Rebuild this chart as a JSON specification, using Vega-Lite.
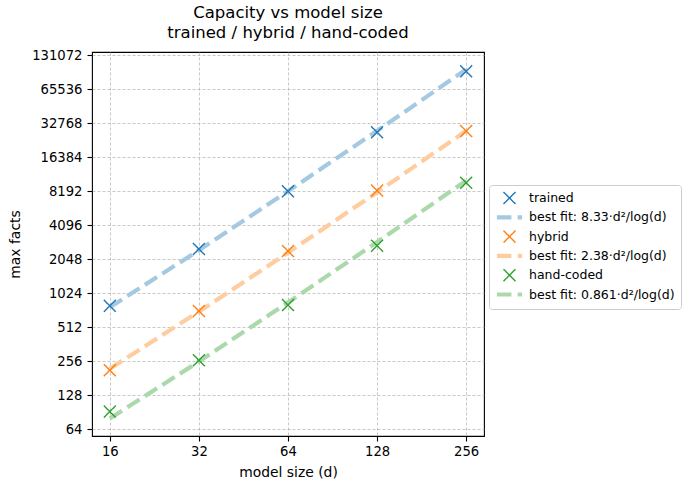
{
  "$schema": "https://vega.github.io/schema/vega-lite/v6.json",
  "autosize": "none",
  "width": 392,
  "height": 384,
  "padding": {"left": 92, "top": 52, "right": 206, "bottom": 53},
  "background": "white",
  "config": {
    "font": "DejaVu Sans",
    "view": {"stroke": "black", "strokeWidth": 1.1},
    "axis": {
      "domain": false,
      "grid": true,
      "gridColor": "#b0b0b0",
      "gridDash": [3, 2],
      "gridWidth": 0.7,
      "tickColor": "black",
      "tickSize": 5,
      "tickWidth": 1.1,
      "labelFont": "DejaVu Sans",
      "labelFontSize": 13.2,
      "labelColor": "black",
      "titleFont": "DejaVu Sans",
      "titleFontSize": 13.9,
      "titleFontWeight": "normal",
      "titleColor": "black"
    },
    "legend": {
      "title": null,
      "orient": "none",
      "legendX": 397,
      "legendY": 133,
      "padding": 6,
      "symbolOffset": 6,
      "strokeColor": "#cccccc",
      "fillColor": "white",
      "cornerRadius": 3,
      "symbolSize": 144,
      "labelFont": "DejaVu Sans",
      "labelFontSize": 12.5,
      "labelColor": "black",
      "labelOffset": 11,
      "rowPadding": 1.8,
      "labelLimit": 300
    }
  },
  "title": {
    "text": ["Capacity vs model size", "trained / hybrid / hand-coded"],
    "font": "DejaVu Sans",
    "fontSize": 16.5,
    "fontWeight": "normal",
    "color": "black",
    "anchor": "middle",
    "lineHeight": 19.5,
    "offset": 7
  },
  "data": {
    "values": [
      {"d": 16, "facts": 792, "series": "trained", "kind": "measured"},
      {"d": 32, "facts": 2526, "series": "trained", "kind": "measured"},
      {"d": 64, "facts": 8192, "series": "trained", "kind": "measured"},
      {"d": 128, "facts": 27300, "series": "trained", "kind": "measured"},
      {"d": 256, "facts": 94600, "series": "trained", "kind": "measured"},
      {"d": 16, "facts": 213, "series": "hybrid", "kind": "measured"},
      {"d": 32, "facts": 713, "series": "hybrid", "kind": "measured"},
      {"d": 64, "facts": 2423, "series": "hybrid", "kind": "measured"},
      {"d": 128, "facts": 8310, "series": "hybrid", "kind": "measured"},
      {"d": 256, "facts": 28000, "series": "hybrid", "kind": "measured"},
      {"d": 16, "facts": 91.6, "series": "hand-coded", "kind": "measured"},
      {"d": 32, "facts": 261, "series": "hand-coded", "kind": "measured"},
      {"d": 64, "facts": 805, "series": "hand-coded", "kind": "measured"},
      {"d": 128, "facts": 2702, "series": "hand-coded", "kind": "measured"},
      {"d": 256, "facts": 9750, "series": "hand-coded", "kind": "measured"},
      {"d": 16, "facts": 769.1, "series": "best fit: 8.33·d²/log(d)", "kind": "fit"},
      {"d": 32, "facts": 2461.2, "series": "best fit: 8.33·d²/log(d)", "kind": "fit"},
      {"d": 64, "facts": 8204.1, "series": "best fit: 8.33·d²/log(d)", "kind": "fit"},
      {"d": 128, "facts": 28128.2, "series": "best fit: 8.33·d²/log(d)", "kind": "fit"},
      {"d": 256, "facts": 98448.7, "series": "best fit: 8.33·d²/log(d)", "kind": "fit"},
      {"d": 16, "facts": 219.75, "series": "best fit: 2.38·d²/log(d)", "kind": "fit"},
      {"d": 32, "facts": 703.2, "series": "best fit: 2.38·d²/log(d)", "kind": "fit"},
      {"d": 64, "facts": 2344.0, "series": "best fit: 2.38·d²/log(d)", "kind": "fit"},
      {"d": 128, "facts": 8036.6, "series": "best fit: 2.38·d²/log(d)", "kind": "fit"},
      {"d": 256, "facts": 28128.2, "series": "best fit: 2.38·d²/log(d)", "kind": "fit"},
      {"d": 16, "facts": 79.5, "series": "best fit: 0.861·d²/log(d)", "kind": "fit"},
      {"d": 32, "facts": 254.4, "series": "best fit: 0.861·d²/log(d)", "kind": "fit"},
      {"d": 64, "facts": 848.0, "series": "best fit: 0.861·d²/log(d)", "kind": "fit"},
      {"d": 128, "facts": 2907.4, "series": "best fit: 0.861·d²/log(d)", "kind": "fit"},
      {"d": 256, "facts": 10175.8, "series": "best fit: 0.861·d²/log(d)", "kind": "fit"}
    ]
  },
  "encoding": {
    "x": {
      "field": "d",
      "type": "quantitative",
      "scale": {"type": "log", "base": 2, "domain": [13.93, 294.1], "nice": false, "zero": false},
      "axis": {"values": [16, 32, 64, 128, 256], "format": "d", "title": "model size (d)", "labelPadding": 4, "titlePadding": 8, "labelFlush": false}
    },
    "y": {
      "field": "facts",
      "type": "quantitative",
      "scale": {"type": "log", "base": 2, "domain": [55.7, 140400], "nice": false, "zero": false},
      "axis": {"values": [64, 128, 256, 512, 1024, 2048, 4096, 8192, 16384, 32768, 65536, 131072], "format": "d", "title": "max facts", "labelPadding": 5, "titlePadding": 9, "labelFlush": false}
    },
    "color": {
      "field": "series",
      "type": "nominal",
      "scale": {
        "domain": ["trained", "best fit: 8.33·d²/log(d)", "hybrid", "best fit: 2.38·d²/log(d)", "hand-coded", "best fit: 0.861·d²/log(d)"],
        "range": ["#1f77b4", "#a5c9e1", "#ff7f0e", "#ffcc9f", "#2ca02c", "#abd9ab"]
      }
    },
    "shape": {
      "field": "series",
      "type": "nominal",
      "scale": {
        "domain": ["trained", "best fit: 8.33·d²/log(d)", "hybrid", "best fit: 2.38·d²/log(d)", "hand-coded", "best fit: 0.861·d²/log(d)"],
        "range": ["M-1,-1L1,1M-1,1L1,-1", "M-2.1,0L2.1,0", "M-1,-1L1,1M-1,1L1,-1", "M-2.1,0L2.1,0", "M-1,-1L1,1M-1,1L1,-1", "M-2.1,0L2.1,0"]
      }
    },
    "strokeDash": {
      "field": "series",
      "type": "nominal",
      "scale": {
        "domain": ["trained", "best fit: 8.33·d²/log(d)", "hybrid", "best fit: 2.38·d²/log(d)", "hand-coded", "best fit: 0.861·d²/log(d)"],
        "range": [[1, 0], [14.5, 6.3], [1, 0], [14.5, 6.3], [1, 0], [14.5, 6.3]]
      }
    },
    "strokeWidth": {
      "field": "series",
      "type": "nominal",
      "scale": {
        "type": "ordinal",
        "domain": ["trained", "best fit: 8.33·d²/log(d)", "hybrid", "best fit: 2.38·d²/log(d)", "hand-coded", "best fit: 0.861·d²/log(d)"],
        "range": [1.4, 4.2, 1.4, 4.2, 1.4, 4.2]
      }
    }
  },
  "layer": [
    {
      "transform": [{"filter": "datum.kind === 'fit'"}],
      "mark": {"type": "line"},
      "encoding": {"order": {"field": "d", "type": "quantitative"}}
    },
    {
      "transform": [{"filter": "datum.kind === 'measured'"}],
      "mark": {"type": "point", "filled": false, "size": 144, "opacity": 1}
    }
  ]
}
